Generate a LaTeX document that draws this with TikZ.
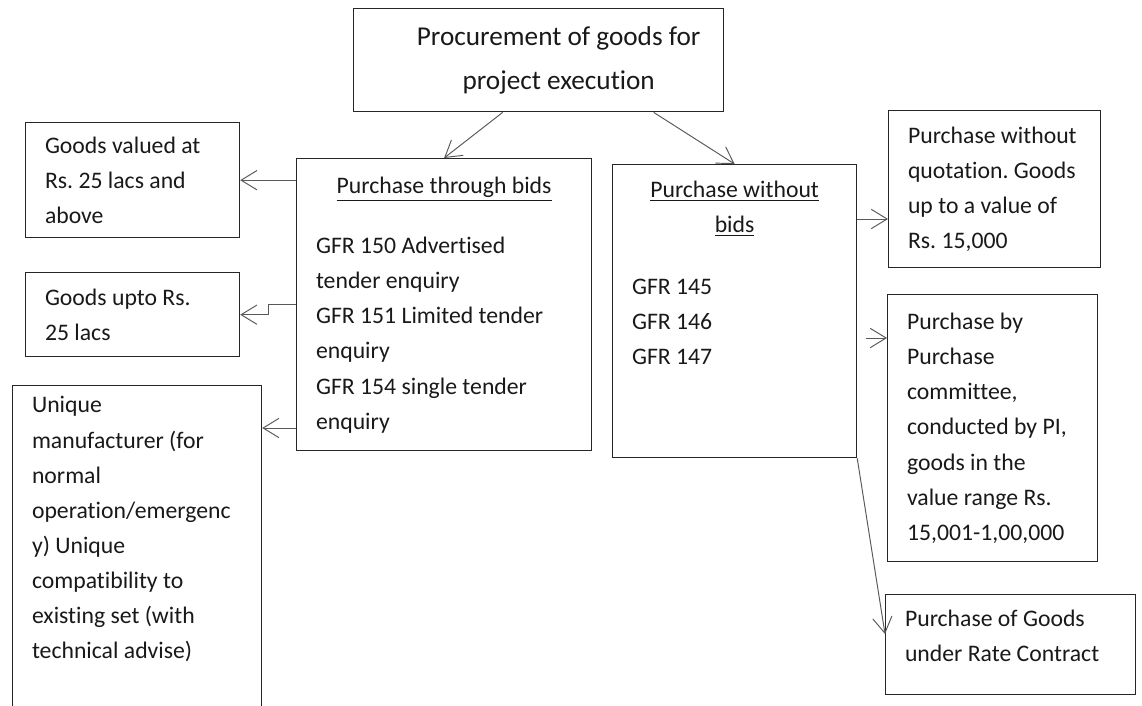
\documentclass[tikz,border=0pt]{standalone}
\usepackage{fontspec}
\setmainfont{Carlito}[Ligatures=NoCommon]
\usetikzlibrary{arrows.meta,calc}
\frenchspacing

\begin{document}
\begin{tikzpicture}[
  x=0.02cm,y=-0.02cm,
  box/.style={draw=black!85,line width=0.8pt,anchor=north west,inner xsep=11pt,
    align=flush left,font=\fontsize{13.5}{20}\selectfont,text=black!90},
  topbox/.style={box,inner ysep=8pt,text height=12pt},
  title/.style={box,align=center,font=\fontsize{15.5}{25}\selectfont},
  link/.style={draw=black!65,line width=0.55pt,-{Straight Barb[length=9pt,width=11pt]}},
]
\useasboundingbox (0,0) rectangle (1142,706);
\clip (0,0) rectangle (1142,706);

\node[title,minimum width=7.4cm,minimum height=2.06cm] (goal) at (353,8)
  {\hspace*{0.8cm}Procurement of goods for\\\hspace*{0.8cm}project execution};

% two ways of buying
\node[topbox,text width=5.124cm,text depth=138pt] (bids) at (296,158)
  {\makebox[\hsize]{\underline{Purchase through bids}}\\[14pt]
   GFR 150 Advertised\\tender enquiry\\GFR 151 Limited tender\\enquiry\\
   GFR 154 single tender\\enquiry};
\node[topbox,text width=4.104cm,text height=10.7pt,text depth=140pt] (nobids) at (612,164)
  {\makebox[\hsize]{\underline{Purchase without}}\\\makebox[\hsize]{\underline{bids}}\\[15pt]
   GFR 145\\GFR 146\\GFR 147};

% left column
\node[box,text width=3.504cm,minimum height=2.3cm] (above25) at (25,122)
  {Goods valued at\\Rs. 25 lacs and\\above};
\node[box,text width=3.504cm,minimum height=1.68cm] (upto25) at (25,272)
  {Goods upto Rs.\\25 lacs};
\node[topbox,inner ysep=4pt,text height=11.5pt,text depth=171pt,text width=4.204cm] (unique) at (12,385)
  {Unique\\manufacturer (for\\normal\\operation/emergenc\\y) Unique\\compatibility to\\
   existing set (with\\technical advise)};

% right column
\node[box,text width=3.464cm,minimum height=3.14cm] (noquote) at (888,110)
  {Purchase without\\quotation. Goods\\up to a value of\\Rs. 15,000};
\node[box,text width=3.424cm,minimum height=5.34cm] (committee) at (887,294)
  {Purchase by\\Purchase\\committee,\\conducted by PI,\\goods in the\\value range Rs.\\15,001-1,00,000};
\node[topbox,inner ysep=6pt,text depth=32.7pt,text width=4.224cm] (ratecon) at (885,594)
  {Purchase of Goods\\under Rate Contract};

\draw[link] ($(goal.south)+(-36,0)$) -- (bids.north);
\draw[link] ($(goal.south)+(115,0)$) -- (nobids.north);
\draw[link] (bids.west |- above25.east) -- (above25.east);
\draw[link] ($(bids.west |- upto25.east)+(0,-10)$) -- ++(-28,0) |- (upto25.east);
\draw[link] (bids.west |- 0,428) -- (unique.east |- 0,428);
\draw[link] (nobids.east |- 0,219) -- (noquote.west |- 0,219);
\draw[link] ($(nobids.east |- 0,338)+(9,0)$) -- (committee.west |- 0,338);
\draw[link] (nobids.south east) -- (ratecon.west |- 0,634);
\end{tikzpicture}
\end{document}
